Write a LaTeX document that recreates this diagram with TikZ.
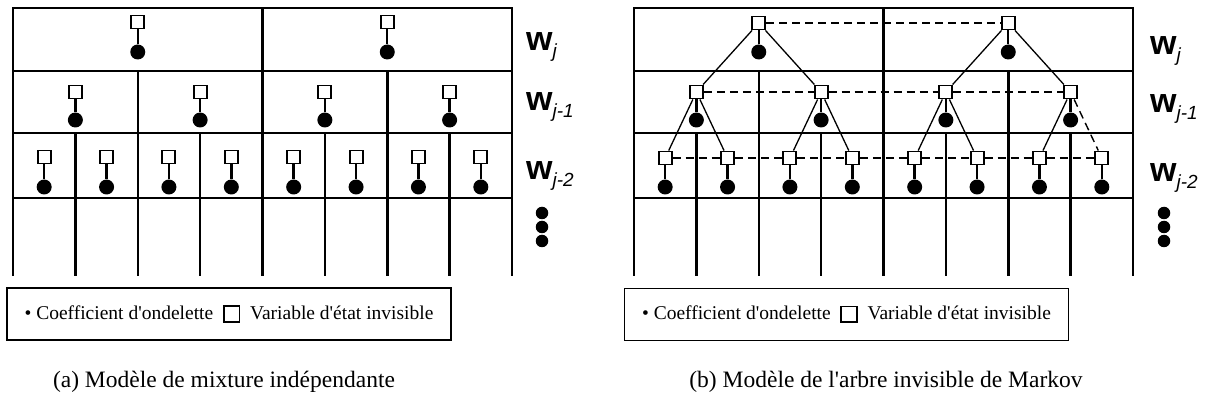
\documentclass[tikz,border=0pt]{standalone}
\usepackage{fontspec}
\setmainfont{Liberation Serif}
\newfontfamily\labfont{Liberation Sans}
\newcommand\scalelabel[2]{{\labfont\fontsize{34}{34}\selectfont\bfseries #1\raisebox{-7pt}{\fontsize{19}{19}\selectfont\mdseries\itshape #2}}}
\newcommand\hidbox{\raisebox{-1.5pt}{\setlength\fboxrule{1.7pt}\setlength\fboxsep{0pt}\fbox{\rule{0pt}{14pt}\rule{14pt}{0pt}}}}
\begin{document}
\begin{tikzpicture}[x=1pt,y=-1pt,
  grid/.style={line width=2.5pt, line cap=rect},
  hid/.style={rectangle, draw, line width=1.9pt, fill=white, minimum size=13pt, inner sep=0pt},
  coef/.style={circle, fill=black, minimum size=15pt, inner sep=0pt},
  stem/.style={line width=2.4pt},
  link/.style={line width=1.3pt},
  chain/.style={line width=1.6pt, dash pattern=on 8pt off 5pt},
  legend/.style={draw, line width=1.6pt, minimum width=444pt, minimum height=52pt, inner sep=0pt,
    font=\fontsize{19.5}{19.5}\selectfont},
  caption/.style={font=\fontsize{23.5}{23.5}\selectfont},
  lab/.style={anchor=base west, inner sep=0pt},
  dot/.style={circle, fill=black, minimum size=12.5pt, inner sep=0pt}]
\useasboundingbox (0,0) rectangle (1208,403);

% ---------- the two wavelet grids ----------
\foreach \px in {13,634}{
  \begin{scope}[xshift=\px pt]
    \foreach \yy in {8,71,133,198} \draw[grid] (0,\yy) -- (499,\yy);
    \foreach \xx in {0,249.5,499} \draw[grid] (\xx,8) -- (\xx,275);
    \foreach \xx in {124.75,374.25} \draw[grid] (\xx,71) -- (\xx,275);
    \foreach \k in {1,3,5,7} \draw[grid] (\k*62.375,133) -- (\k*62.375,275);
  \end{scope}
}

% ---------- (a) independent mixture: state / coefficient pairs ----------
\begin{scope}[xshift=13pt]
  \foreach \i/\c in {1/2,2/6}{
    \node[hid] (aS1\i) at (\c*62.375,22) {};
    \node[coef] (aC1\i) at (\c*62.375,52) {};
    \draw[stem] (aS1\i) -- (aC1\i);
  }
  \foreach \i/\c in {1/1,2/3,3/5,4/7}{
    \node[hid] (aS2\i) at (\c*62.375,92) {};
    \node[coef] (aC2\i) at (\c*62.375,120) {};
    \draw[stem] (aS2\i) -- (aC2\i);
  }
  \foreach \i/\c in {1/0.5,2/1.5,3/2.5,4/3.5,5/4.5,6/5.5,7/6.5,8/7.5}{
    \node[hid] (aS3\i) at (\c*62.375,157) {};
    \node[coef] (aC3\i) at (\c*62.375,187) {};
    \draw[stem] (aS3\i) -- (aC3\i);
  }
\end{scope}

% ---------- (b) hidden Markov tree ----------
\begin{scope}[xshift=634pt]
  \foreach \i/\c in {1/2,2/6}{
    \node[hid] (bS1\i) at (\c*62.375,23) {};
    \node[coef] (bC1\i) at (\c*62.375,52) {};
    \draw[stem] (bS1\i) -- (bC1\i);
  }
  \foreach \i/\c in {1/1,2/3,3/5,4/7}{
    \node[hid] (bS2\i) at (\c*62.375,92) {};
    \node[coef] (bC2\i) at (\c*62.375,120) {};
    \draw[stem] (bS2\i) -- (bC2\i);
  }
  \foreach \i/\c in {1/0.5,2/1.5,3/2.5,4/3.5,5/4.5,6/5.5,7/6.5,8/7.5}{
    \node[hid] (bS3\i) at (\c*62.375,158) {};
    \node[coef] (bC3\i) at (\c*62.375,187) {};
    \draw[stem] (bS3\i) -- (bC3\i);
  }
\end{scope}

% parent-child links of the tree
\draw[link] (bS11) -- (bS21);
\draw[link] (bS11) -- (bS22);
\draw[link] (bS12) -- (bS23);
\draw[link] (bS12) -- (bS24);
\draw[link] (bS21) -- (bS31);
\draw[link] (bS21) -- (bS32);
\draw[link] (bS22) -- (bS33);
\draw[link] (bS22) -- (bS34);
\draw[link] (bS23) -- (bS35);
\draw[link] (bS23) -- (bS36);
\draw[link] (bS24) -- (bS37);
\draw[chain, line width=1.4pt] (bS24) -- (bS38);

% dependencies within each scale
\draw[chain] (bS11) -- (bS12);
\draw[chain] (bS21) -- (bS22) -- (bS23) -- (bS24);
\draw[chain] (bS31) -- (bS32) -- (bS33) -- (bS34) -- (bS35) -- (bS36) -- (bS37) -- (bS38);

% ---------- scale labels ----------
\node[lab] (aL1) at (526,51) {\scalelabel{w}{j}};
\node[lab] (aL2) at (526,111) {\scalelabel{w}{j-1}};
\node[lab] (aL3) at (526,180) {\scalelabel{w}{j-2}};
\node[dot] (aD1) at (542,213) {};
\node[dot] (aD2) at (542,227) {};
\node[dot] (aD3) at (542,241) {};

\node[lab] (bL1) at (1150,55) {\scalelabel{w}{j}};
\node[lab] (bL2) at (1150,113) {\scalelabel{w}{j-1}};
\node[lab] (bL3) at (1150,182) {\scalelabel{w}{j-2}};
\node[dot] (bD1) at (1164,213) {};
\node[dot] (bD2) at (1164,227) {};
\node[dot] (bD3) at (1164,241) {};

% ---------- legends and captions ----------
\node[legend] (legA) at (229,314)
  {\textbullet\ Coefficient d\textquotesingle ondelette\ \ \hidbox\ \ Variable d\textquotesingle état invisible};
\node[legend] (legB) at (846.5,314.5)
  {\textbullet\ Coefficient d\textquotesingle ondelette\ \ \hidbox\ \ Variable d\textquotesingle état invisible};
\node[caption] (capA) at (224,382) {(a) Modèle de mixture indépendante};
\node[caption] (capB) at (886,382) {(b) Modèle de l\textquotesingle arbre invisible de Markov};
\end{tikzpicture}
\end{document}
